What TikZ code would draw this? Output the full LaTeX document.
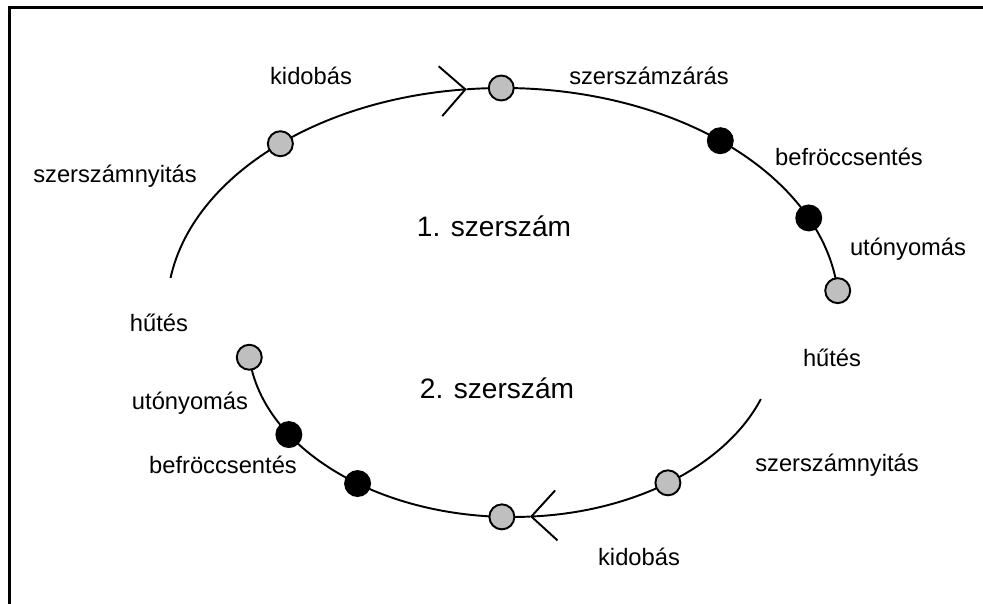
\documentclass[tikz,border=0pt]{standalone}
\usepackage{fontspec}
\setmainfont{Liberation Sans}
\usetikzlibrary{arrows.meta}

\begin{document}
\begin{tikzpicture}[x=0.02cm,y=0.02cm,
  txt/.style={font=\fontsize{13.5}{16}\selectfont},
  bigtxt/.style={font=\fontsize{16}{19}\selectfont},
  dot/.style={circle,draw,line width=1.1pt,minimum size=0.5cm,inner sep=0pt},
  greydot/.style={dot,fill=gray!50},
  blackdot/.style={dot,fill=black},
  cycle/.style={line width=1.1pt},
  barb/.style={-{Straight Barb[length=0.5cm,width=1cm]}}]
\useasboundingbox (0,0) rectangle (983,604);
\draw[line width=1.5pt] (9.5,0) -- (9.5,596.5) -- (983,596.5);
\coordinate (c1) at (503,294);
\coordinate (c2) at (512,264);
% 1. szerszam
\draw[cycle,barb] ([shift={(171.7:336 and 222)}]c1) arc[start angle=171.7,end angle=96.2,x radius=336,y radius=222];
\draw[cycle] ([shift={(96.2:336 and 222)}]c1) arc[start angle=96.2,end angle=5,x radius=336,y radius=222];
\node[greydot] (nyit1) at ([shift={(131.5:336 and 222)}]c1) {};
\node[greydot] (zar1) at ([shift={(90.3:336 and 222)}]c1) {};
\node[blackdot] (fecs1) at ([shift={(49.7:336 and 222)}]c1) {};
\node[blackdot] (uto1) at ([shift={(24.5:336 and 222)}]c1) {};
\node[greydot] (hut1) at ([shift={(5:336 and 222)}]c1) {};
% 2. szerszam
\draw[cycle,barb] ([shift={(340.5:264 and 177)}]c2) arc[start angle=340.5,end angle=273.9,x radius=264,y radius=177];
\draw[cycle] ([shift={(273.9:264 and 177)}]c2) arc[start angle=273.9,end angle=185.6,x radius=264,y radius=177];
\node[greydot] (nyit2) at ([shift={(306.2:264 and 177)}]c2) {};
\node[greydot] (zar2) at ([shift={(267.8:264 and 177)}]c2) {};
\node[blackdot] (fecs2) at ([shift={(234.2:264 and 177)}]c2) {};
\node[blackdot] (uto2) at ([shift={(212.3:264 and 177)}]c2) {};
\node[greydot] (hut2) at ([shift={(185.6:264 and 177)}]c2) {};
% feliratok
\node[bigtxt] (szersz1) at (494,378) {1. szerszám};
\node[bigtxt] (szersz2) at (497,216) {2. szerszám};
\node[txt] (kidob1) at (311,528) {kidobás};
\node[txt] (zarlab1) at (649,528) {szerszámzárás};
\node[txt] (fecslab1) at (849,447) {befröccsentés};
\node[txt] (nyitlab1) at (115,428) {szerszámnyitás};
\node[txt] (utolab1) at (908,355) {utónyomás};
\node[txt] (hutlab1) at (832,246) {hűtés};
\node[txt] (hutlab2) at (159,281) {hűtés};
\node[txt] (utolab2) at (190,201) {utónyomás};
\node[txt] (fecslab2) at (223,139) {befröccsentés};
\node[txt] (nyitlab2) at (837,139) {szerszámnyitás};
\node[txt] (kidob2) at (639,47) {kidobás};
\end{tikzpicture}
\end{document}
